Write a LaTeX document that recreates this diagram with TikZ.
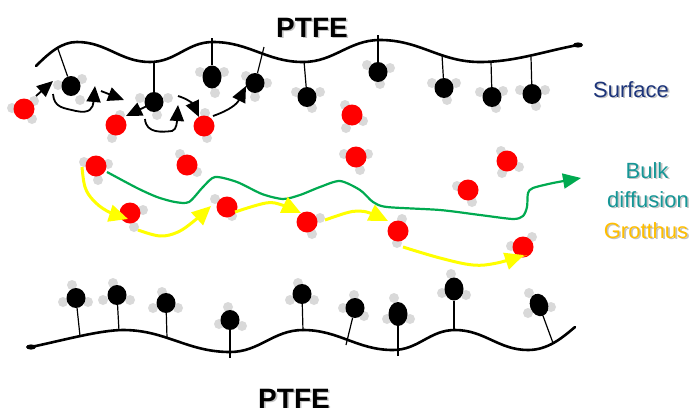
\documentclass[tikz,border=0pt]{standalone}
\usepackage{fontspec}
\setmainfont{Liberation Sans}
\usetikzlibrary{arrows.meta,shapes.geometric}
\definecolor{hgray}{RGB}{217,217,217}
\definecolor{shadowgray}{RGB}{195,195,195}
\definecolor{navy}{RGB}{28,52,122}
\definecolor{teal}{RGB}{22,150,150}
\definecolor{gold}{RGB}{255,190,0}
\definecolor{bulkgreen}{RGB}{0,170,80}
\definecolor{grotyellow}{RGB}{255,255,0}
% one molecule: name, centre, oxygen style, list of H offsets
\newcommand\molec[4]{%
  \foreach \p in {#4}{\fill[hgray] (#2) ++(\p) circle (5);}
  \node[#3] (#1) at (#2) {};}
% text with a soft grey drop shadow
\newcommand\shtext[4]{%
  \node[#3, text=shadowgray] at ([shift={(1.6,1.6)}]#2) {#4};
  \node[#3] (#1) at (#2) {#4};}
\begin{document}
\begin{tikzpicture}[x=1pt,y=-1pt,
  blk/.style={ellipse, fill=black, inner sep=0pt, minimum width=19pt, minimum height=20pt},
  wat/.style={circle, fill=red, inner sep=0pt, minimum size=21pt},
  surf/.style={line width=2.6pt, line cap=round},
  stick/.style={line width=1.2pt},
  hop/.style={line width=1.8pt, -{Triangle[length=16pt,width=14pt]}},
  bulk/.style={bulkgreen, line width=2.2pt, -{Triangle[length=18pt,width=15pt]}},
  grot/.style={grotyellow, line width=3pt, -{Triangle[length=19pt,width=17pt]}},
  lbl/.style={anchor=base, inner sep=0pt, font=\fontsize{22}{22}\selectfont},
  ptfe/.style={anchor=base, inner sep=0pt, font=\bfseries\fontsize{28}{28}\selectfont}]
\useasboundingbox (0,0) rectangle (692,407);

% ---- molecules bound to the upper wall
\molec{m1}{71,86}{blk}{{-13,-1},{11,-7},{9,14}}
\molec{m2}{154,102}{blk}{{-14,-4},{14,-4},{3,13}}
\molec{m3}{212,77}{blk, minimum height=23pt}{{-12,-5},{12,-5},{3,16}}
\molec{m4}{255,83}{blk}{{-9,-7},{12,0},{0,14}}
\molec{m5}{307,97}{blk}{{-11,-5},{13,-5},{5,11}}
\molec{m6}{378,72}{blk}{{-11,-7},{12,-4},{2,12}}
\molec{m7}{444,88}{blk}{{-12,-5},{12,-5},{3,12}}
\molec{m8}{492,97}{blk}{{-12,-5},{11,-6},{4,11}}
\molec{m9}{532,94}{blk}{{-12,-4},{13,-4},{4,12}}

% ---- molecules bound to the lower wall
\molec{b1}{76,298}{blk}{{-4,-13},{-13,4},{12,4}}
\molec{b2}{117,295}{blk}{{-4,-12},{-14,5},{13,5}}
\molec{b3}{166,303}{blk}{{-4,-11},{-13,5},{12,5}}
\molec{b4}{230,320}{blk}{{-2,-13},{-11,4},{12,6}}
\molec{b5}{302,294}{blk}{{-4,-11},{-12,6},{12,6}}
\molec{b6}{355,308}{blk}{{-1,-13},{-12,0},{9,8}}
\molec{b7}{398,314}{blk, minimum width=19pt, minimum height=24pt}{{-4,-16},{-11,5},{12,5}}
\molec{b8}{454,289}{blk, minimum width=19pt, minimum height=23pt}{{-3,-15},{-12,4},{12,6}}
\molec{b9}{539,305}{blk, minimum width=18pt, minimum height=23pt, rotate=20}{{-10,-12},{-11,8},{12,2}}

% ---- free water molecules
\molec{r1}{24,109}{wat}{{-12,-1},{10,-8},{8,10}}
\molec{r2}{116,125}{wat}{{4,-10},{-4,13}}
\molec{r3}{204,126}{wat}{{1,-13},{3,12}}
\molec{r4}{352,115}{wat}{{-7,-10},{11,6},{-6,13}}
\molec{r5}{96,166}{wat}{{-12,-4},{12,-2},{2,14}}
\molec{r6}{187,165}{wat}{{-7,-11},{10,7}}
\molec{r7}{356,157}{wat}{{-12,-3},{12,-3},{4,13}}
\molec{r8}{130,213}{wat}{{13,-3},{4,14}}
\molec{r9}{227,207}{wat}{{-12,-8},{5,9}}
\molec{r10}{307,222}{wat}{{13,-4},{5,12}}
\molec{r11}{507,161}{wat}{{-6,-10},{12,6},{-5,12}}
\molec{r12}{468,190}{wat}{{-11,-4},{4,12}}
\molec{r13}{398,231}{wat}{{4,-12},{-1,12}}
\molec{r14}{523,247}{wat}{{9,-10},{-12,-1}}

% ---- PTFE walls
\draw[surf] (36,66) .. controls (50,52) and (62,42) .. (77,42)
  to[out=0,in=180] (150,62) to[out=0,in=180] (213,42)
  to[out=0,in=180] (303,62) to[out=0,in=180] (380,40)
  to[out=0,in=180] (480,62) .. controls (515,62) and (545,51) .. (578,45);
\fill (578,45) ellipse (5 and 2.6);
\draw[surf] (31,347) .. controls (60,341) and (100,330) .. (123,330)
  to[out=0,in=180] (230,352) to[out=0,in=180] (303,330)
  to[out=0,in=180] (393,350) to[out=0,in=180] (455,330)
  to[out=0,in=180] (528,350) .. controls (548,350) and (562,338) .. (575,327);
\fill (31,347) ellipse (5 and 2.6);

% anchoring points on the walls
\coordinate (s1) at (58,49);  \coordinate (s2) at (154,61);
\coordinate (s3) at (212,38); \coordinate (s4) at (264,47);
\coordinate (s5) at (304,61); \coordinate (s6) at (378,35);
\coordinate (s7) at (442,55); \coordinate (s8) at (491,62);
\coordinate (s9) at (531,57);
\coordinate (t1) at (80,336);  \coordinate (t2) at (119,331);
\coordinate (t3) at (167,338); \coordinate (t4) at (230,358);
\coordinate (t5) at (303,331); \coordinate (t6) at (346,345);
\coordinate (t7) at (398,356); \coordinate (t8) at (454,331);
\coordinate (t9) at (553,343);
\foreach \i in {1,...,9}{
  \draw[stick] (s\i) -- (m\i);
  \draw[stick] (t\i) -- (b\i);}

% ---- surface hopping
\coordinate (h1a) at (36,96);  \coordinate (h1b) at (53,81);
\coordinate (h2a) at (53,94);  \coordinate (h2b) at (95,86);
\coordinate (h3a) at (101,91); \coordinate (h3b) at (124,100);
\coordinate (h4a) at (147,106);\coordinate (h4b) at (126,116);
\coordinate (h5a) at (145,119);\coordinate (h5b) at (178,105);
\coordinate (h6a) at (178,96); \coordinate (h6b) at (199,117);
\coordinate (h7a) at (213,116);\coordinate (h7b) at (246,86);
\draw[hop] (h1a) -- (h1b);
\draw[hop] (h2a) .. controls (54,108) and (64,108) .. (76,111)
  .. controls (90,114) and (93,108) .. (h2b);
\draw[hop] (h3a) -- (h3b);
\draw[hop] (h4a) -- (h4b);
\draw[hop] (h5a) .. controls (146,134) and (163,132) .. (172,131)
  .. controls (177,130) and (177,120) .. (h5b);
\draw[hop] (h6a) .. controls (188,99) and (193,104) .. (h6b);
\draw[hop] (h7a) .. controls (230,110) and (237,104) .. (h7b);

% ---- bulk diffusion
\draw[bulk] plot[smooth, tension=0.45] coordinates {
  (107,172) (137,188) (157,197) (175,202) (189,202) (203,187) (215,177)
  (237,182) (262,194) (283,199) (300,195) (320,187) (340,181) (360,190)
  (373,202) (387,207) (440,210) (480,215) (513,219) (523,216) (527,207)
  (528,193) (533,188) (553,183) (581,178)};

% ---- Grotthus hopping
\draw[grot] plot[smooth, tension=0.6] coordinates {(82,167) (85,187) (93,200) (107,211) (128,219)};
\draw[grot] plot[smooth, tension=0.6] coordinates {(138,230) (160,236) (178,232) (194,221) (211,206)};
\draw[grot] plot[smooth, tension=0.6] coordinates {(235,212) (266,203) (282,205) (301,213)};
\draw[grot] plot[smooth, tension=0.6] coordinates {(325,220) (346,213) (358,211) (370,213) (388,221)};
\draw[grot] plot[smooth, tension=0.6] coordinates {(403,247) (440,258) (473,265) (497,263) (524,255)};

% ---- labels
\shtext{ptfetop}{312,37}{ptfe}{PTFE}
\shtext{ptfebot}{294,408}{ptfe}{PTFE}
\shtext{surface}{631,97}{lbl, text=navy}{Surface}
\shtext{bulklbl}{647,178}{lbl, text=teal}{Bulk}
\shtext{difflbl}{648,207}{lbl, text=teal}{diffusion}
\shtext{grotlbl}{646,238}{lbl, text=gold}{Grotthus}
\end{tikzpicture}
\end{document}
